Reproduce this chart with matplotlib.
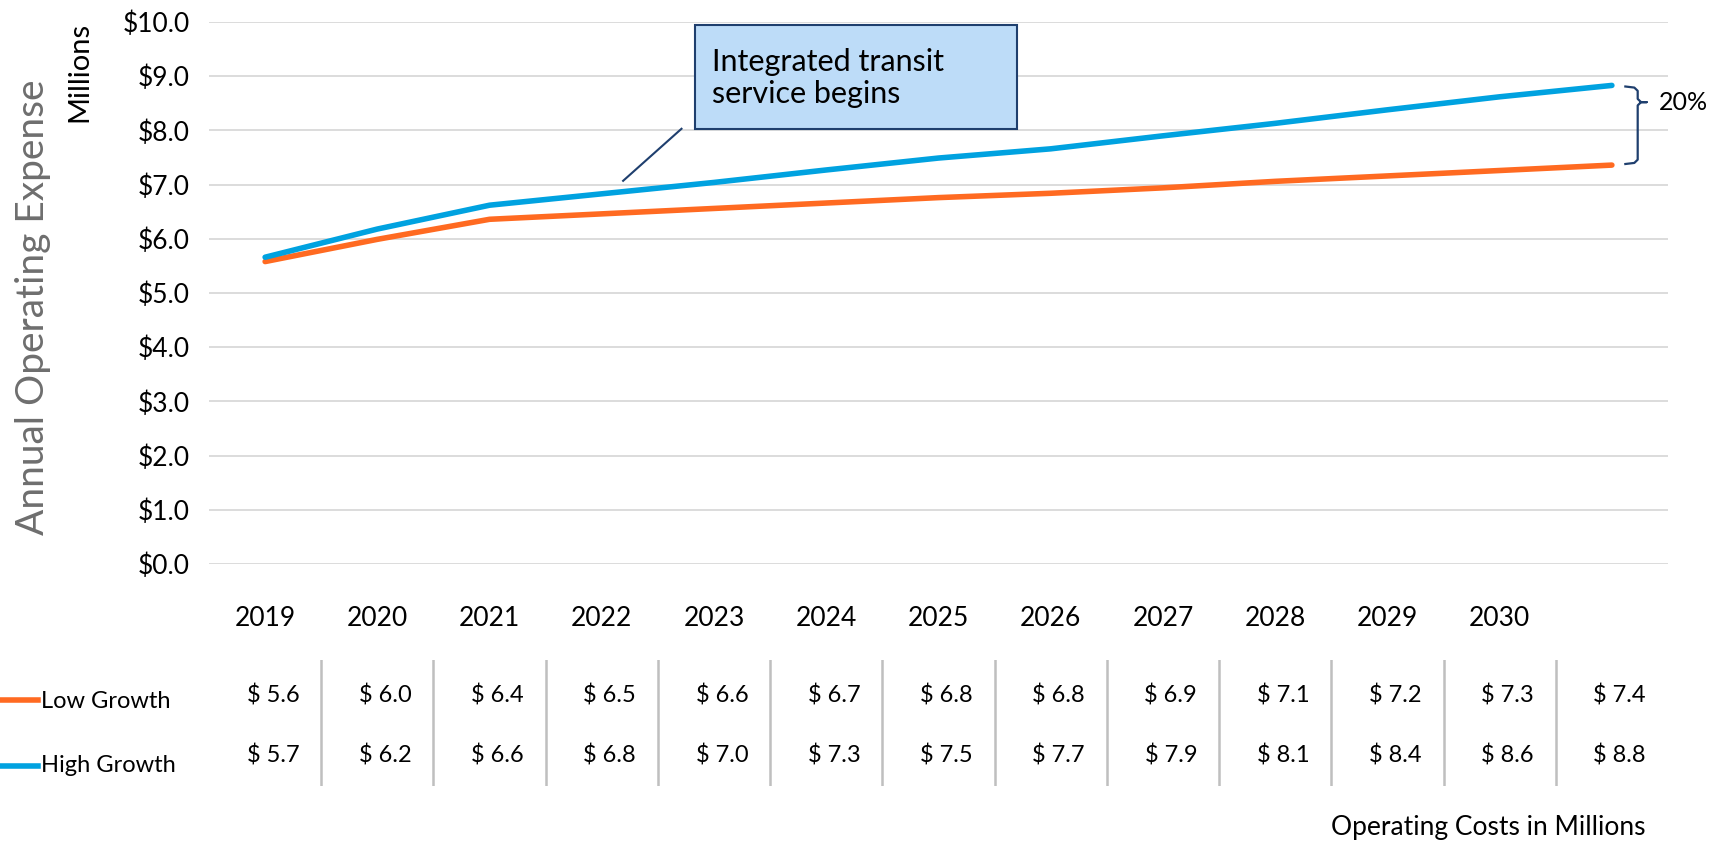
import numpy as np
import matplotlib
matplotlib.use("Agg")
import matplotlib.pyplot as plt
from matplotlib.lines import Line2D
from matplotlib.patches import Rectangle

plt.rcParams['font.family'] = ['Lato', 'DejaVu Sans']

years = [2019, 2020, 2021, 2022, 2023, 2024, 2025, 2026, 2027, 2028, 2029, 2030, 2031]
tick_years = ['2019', '2020', '2021', '2022', '2023', '2024', '2025', '2026',
              '2027', '2028', '2029', '2030']
low_growth = [5.58, 5.99, 6.36, 6.46, 6.56, 6.66, 6.76, 6.84, 6.94, 7.06, 7.16, 7.26, 7.36]
high_growth = [5.66, 6.18, 6.62, 6.83, 7.04, 7.27, 7.49, 7.66, 7.90, 8.13, 8.38, 8.62, 8.83]
y_ticks = [0, 1, 2, 3, 4, 5, 6, 7, 8, 9, 10]
gap_label = '20%'

orange = '#FF6A21'
blue = '#00A2E0'
navy = '#1F3F6E'
grid = '#D9D9D9'

W, H = 1724, 842
fig = plt.figure(figsize=(W / 100, H / 100), dpi=100)

def fx(px):
    return px / W

def fy(py):
    return 1 - py / H

ax = fig.add_axes([fx(209), fy(564), fx(1668) - fx(209), fy(22) - fy(564)])
x = np.arange(len(years))
ax.set_xlim(-0.5, len(years) - 0.5)
ax.set_ylim(0, 10)

for v in y_ticks:
    ax.axhline(v, color=grid, lw=1.3, zorder=0)

ax.plot(x, low_growth, color=orange, lw=4, solid_capstyle='round', zorder=3)
ax.plot(x, high_growth, color=blue, lw=4, solid_capstyle='round', zorder=3)

for s in ax.spines.values():
    s.set_visible(False)
ax.set_yticks(y_ticks)
ax.set_yticklabels([f'${v:.1f}' for v in y_ticks], fontsize=19)
ax.set_xticks(x[:len(tick_years)])
ax.set_xticklabels(tick_years, fontsize=19)
ax.tick_params(axis='both', length=0)
ax.tick_params(axis='y', pad=14)
ax.tick_params(axis='x', pad=30)

# annotation box
ax.add_patch(Rectangle((3.83, 8.03), 2.87, 1.91, facecolor='#BDDCF8',
                       edgecolor=navy, lw=1.5, zorder=4, clip_on=False))
ax.text(3.98, 8.97, 'Integrated transit\nservice begins', fontsize=22,
        va='center', ha='left', linespacing=1.2, zorder=5)
ax.plot([3.71, 3.19], [8.03, 7.07], color=navy, lw=1.5, zorder=4)

# bracket between the end points
top, bot = high_growth[-1], low_growth[-1]
mid = top - 0.21 * (top - bot)
xe = x[-1]
bx = [xe + 0.12, xe + 0.2, xe + 0.23, xe + 0.23, xe + 0.26, xe + 0.31,
      xe + 0.26, xe + 0.23, xe + 0.23, xe + 0.2, xe + 0.12]
by = [top - 0.02, top - 0.04, top - 0.1, mid + 0.06, mid, mid,
      mid, mid - 0.06, bot + 0.1, bot + 0.04, bot + 0.02]
ax.plot(bx, by, color=navy, lw=1.6, clip_on=False, zorder=4)
ax.text(xe + 0.42, mid, gap_label, fontsize=18, va='center', ha='left')

# axis titles
fig.text(fx(33), fy(307), 'Annual Operating Expense', rotation=90, fontsize=28,
         color='#6E6E6E', ha='center', va='center')
fig.text(fx(79), fy(22), 'Millions', rotation=90, fontsize=21,
         ha='center', va='top')

# data table below the chart
tab = fig.add_axes([fx(209), fy(786), fx(1668) - fx(209), fy(660) - fy(786)])
tab.set_xlim(ax.get_xlim())
tab.set_ylim(0, 1)
tab.axis('off')
for b in np.arange(0.5, len(years) - 1, 1.0):
    tab.plot([b, b], [0, 1], color='#BFBFBF', lw=1.8)
for i in range(len(years)):
    tab.text(x[i] + 0.07, 0.72, f'$ {low_growth[i]:.1f}', fontsize=17,
             ha='center', va='center')
    tab.text(x[i] + 0.07, 0.24, f'$ {high_growth[i]:.1f}', fontsize=17,
             ha='center', va='center')

fig.add_artist(Line2D([fx(0), fx(38)], [fy(700), fy(700)], color=orange, lw=4))
fig.add_artist(Line2D([fx(0), fx(38)], [fy(766), fy(766)], color=blue, lw=4))
fig.text(fx(41), fy(702), 'Low Growth', fontsize=17, va='center', ha='left')
fig.text(fx(41), fy(766), 'High Growth', fontsize=17, va='center', ha='left')

fig.text(fx(1646), fy(827), 'Operating Costs in Millions', fontsize=19,
         ha='right', va='center')

fig.savefig('out.png', dpi=100)
